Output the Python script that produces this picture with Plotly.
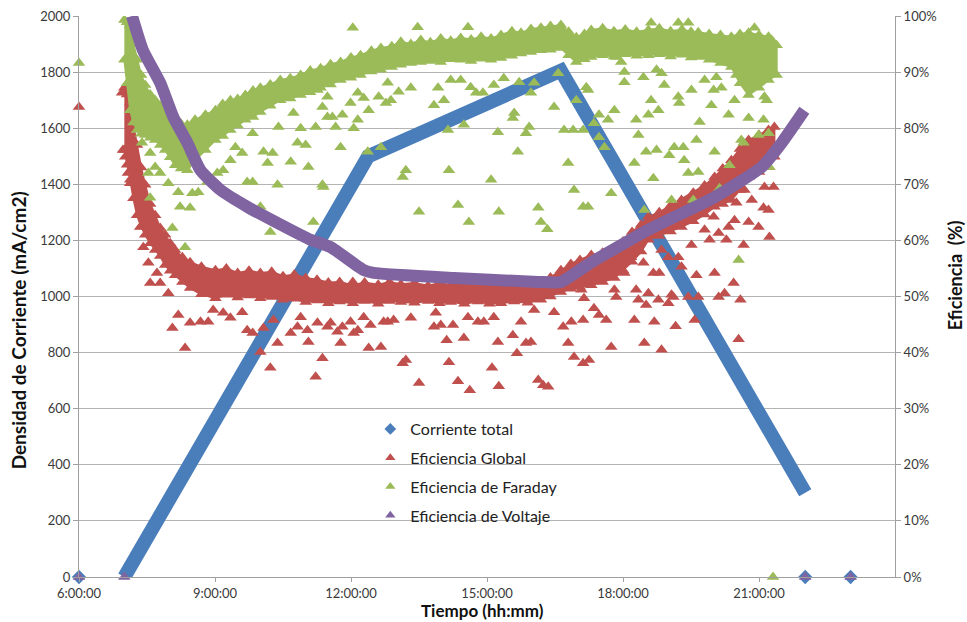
import plotly.graph_objects as go

# ---------------------------------------------------------------
# Data (time in decimal hours, current in mA/cm2, efficiency in %)
# ---------------------------------------------------------------
x_tickvals = [6, 9, 12, 15, 18, 21]
x_ticktext = ["6:00:00", "9:00:00", "12:00:00", "15:00:00", "18:00:00", "21:00:00"]
y1_tickvals = [0, 200, 400, 600, 800, 1000, 1200, 1400, 1600, 1800, 2000]
y2_tickvals = [0, 10, 20, 30, 40, 50, 60, 70, 80, 90, 100]
y2_ticktext = [f"{v}%" for v in y2_tickvals]

# Corriente total: ramp up, slower ramp, ramp down
corr_t = [7.00, 12.38, 16.63, 22.02]
corr_v = [0, 1500, 1805, 300]
corr_iso_t = [6.00, 22.02, 23.02]
corr_iso_v = [0, 0, 0]

# Eficiencia de Voltaje
volt_t = [7.17, 7.41, 7.79, 8.08, 8.39, 8.68, 9.12, 9.71, 10.38, 11.11, 11.55,
          12.28, 12.50, 14.27, 16.13, 16.63, 17.30, 18.56, 20.02, 21.06, 21.50, 22.00]
volt_v = [100.0, 93.9, 88.1, 82.0, 77.4, 72.5, 69.0, 66.0, 63.1, 60.1, 58.8,
          54.7, 54.2, 53.3, 52.6, 52.6, 56.1, 61.9, 67.7, 73.1, 77.4, 83.2]
volt_iso_t = [6.00, 7.00, 22.02, 23.02]
volt_iso_v = [0, 0, 0, 0]

# Eficiencia Global: dense band (upper / lower edge)
glob_band_t = [7.00, 7.06, 7.13, 7.20, 7.28, 7.37, 7.46, 7.57, 7.68, 7.79, 7.90, 8.01,
               8.12, 8.28, 8.45, 8.70, 9.01, 9.25, 9.50, 9.75, 10.00, 10.25, 10.50,
               10.75, 11.00, 11.25, 11.50, 11.75, 12.04, 12.30, 12.60, 12.85, 13.10,
               13.40, 13.70, 13.95, 14.20, 14.50, 14.80, 15.05, 15.31, 15.60, 15.90,
               16.19, 16.40, 16.63, 16.85, 17.05, 17.30, 17.55, 17.81, 18.00, 18.20,
               18.40, 18.56, 18.80, 19.05, 19.29, 19.55, 19.80, 20.02, 20.20, 20.39,
               20.58, 20.77, 21.00, 21.21, 21.34]
glob_band_hi = [87.2, 86.0, 84.5, 80.5, 77.0, 73.0, 69.9, 66.5, 64.5, 62.2, 61.0, 59.5,
                58.3, 57.0, 56.1, 55.3, 54.7, 55.0, 54.2, 54.6, 54.2, 54.4, 53.6,
                53.9, 53.3, 53.0, 52.5, 52.6, 52.0, 52.5, 52.1, 52.6, 52.2,
                52.4, 51.9, 52.4, 52.0, 52.3, 51.8, 52.2, 51.9, 52.3, 52.0,
                52.4, 53.4, 54.7, 55.8, 56.5, 57.4, 57.8, 58.3, 59.8, 61.5,
                62.8, 64.2, 65.0, 66.2, 67.2, 68.5, 69.8, 71.3, 72.8, 74.3,
                76.3, 77.9, 78.8, 79.7, 80.2]
glob_band_lo = [76.1, 73.5, 70.8, 67.5, 64.5, 62.5, 61.0, 59.5, 58.3, 57.2, 55.6, 54.6,
                53.8, 52.6, 51.5, 50.4, 49.7, 50.3, 49.8, 50.2, 49.7, 49.9, 49.4,
                49.6, 49.0, 49.3, 48.8, 49.1, 48.8, 49.2, 48.7, 49.2, 49.0,
                48.9, 49.2, 48.8, 49.0, 48.7, 49.1, 48.7, 48.8, 49.1, 48.9,
                49.4, 50.0, 50.8, 51.4, 51.7, 52.0, 52.6, 53.3, 54.7, 56.2,
                58.0, 60.1, 60.8, 61.6, 62.4, 63.4, 64.6, 66.0, 66.5, 67.2,
                69.0, 71.3, 72.2, 73.1, 74.9]
# Eficiencia Global: scattered readings
glob_t = [6.00, 6.95, 6.97, 7.02, 7.08, 7.13, 7.35, 7.42, 7.53, 7.57, 7.72, 7.97, 7.79,
          8.06, 8.34, 8.19, 8.45, 8.68, 8.85, 8.96, 9.18, 9.34, 9.60, 9.71, 9.83, 10.00,
          10.07, 10.22, 10.29, 10.38, 10.67, 10.82, 10.89, 11.04, 11.06, 11.22, 11.26,
          11.37, 11.48, 11.55, 11.70, 11.77, 11.81, 11.99, 12.06, 12.15, 12.28, 12.39,
          12.43, 12.66, 12.72, 12.81, 12.94, 13.14, 13.21, 13.32, 13.50, 13.83, 13.87,
          13.98, 14.11, 14.16, 14.25, 14.36, 14.49, 14.58, 14.62, 14.80, 14.93, 15.11,
          15.15, 15.24, 15.26, 15.57, 15.66, 15.75, 15.86, 15.97, 16.04, 16.13, 16.24,
          16.35, 16.48, 16.68, 16.79, 16.86, 16.92, 17.12, 17.12, 17.14, 17.25, 17.36,
          17.47, 17.63, 17.74, 17.85, 18.25, 18.34, 18.47, 18.51, 18.69, 18.78, 18.85,
          19.00, 19.11, 19.16, 19.44, 19.58, 19.66, 20.11, 20.24, 20.55, 20.59,
          17.08, 17.52, 17.59, 17.81, 18.03, 18.18, 18.29, 18.45, 18.56, 18.67, 18.80,
          18.85, 19.00, 19.07, 19.22, 19.29, 19.51, 19.62, 19.80, 19.91, 20.00, 20.02,
          20.11, 20.28, 20.33, 20.44, 20.46, 20.50, 20.66, 20.68, 20.77, 20.84, 20.99,
          21.10, 21.12, 21.21, 21.23, 21.32, 20.90, 21.10, 12.04]
glob_v = [83.8, 86.3, 76.1, 74.9, 72.0, 70.2, 62.4, 58.8, 56.0, 52.4, 54.2, 50.6, 52.4,
          44.4, 40.8, 46.7, 45.3, 45.5, 45.5, 47.6, 47.1, 46.2, 47.2, 44.0, 43.5, 40.1,
          44.4, 37.3, 45.8, 41.7, 43.5, 44.6, 46.3, 44.0, 41.9, 35.7, 45.3,
          39.0, 44.6, 45.3, 43.7, 41.7, 44.6, 45.5, 43.5, 44.0, 46.3, 40.8,
          44.9, 41.0, 45.5, 45.5, 45.8, 38.1, 38.7, 46.2, 34.6, 44.6, 47.1,
          44.9, 42.2, 38.3, 44.9, 34.9, 42.6, 46.3, 33.3, 45.5, 45.5, 37.3,
          46.3, 41.9, 34.0, 43.1, 39.9, 45.5, 41.7, 41.9, 47.6, 35.1, 34.2,
          33.9, 47.2, 44.6, 41.7, 45.5, 39.2, 38.1, 45.8, 49.7, 38.7, 47.9,
          46.7, 45.8, 41.0, 49.9, 45.8, 49.4, 41.7, 48.5, 45.5, 49.4, 40.5,
          48.8, 49.9, 44.7, 49.9, 45.8, 49.9, 49.9, 50.6, 42.4, 49.4,
          51.2, 52.9, 55.3, 51.2, 54.2, 57.0, 51.2, 56.0, 50.6, 54.2, 54.2,
          58.3, 57.0, 50.3, 57.0, 55.3, 59.2, 53.8, 61.9, 60.1, 64.2, 54.2,
          61.3, 60.1, 62.4, 52.4, 63.6, 66.7, 59.2, 69.0, 63.3, 67.2, 62.4,
          65.8, 69.5, 65.4, 60.6, 69.5, 76.6, 77.9, 52.6]

# Eficiencia de Faraday: dense band (upper / lower edge)
fara_band_t = [7.00, 7.06, 7.13, 7.20, 7.28, 7.37, 7.46, 7.57, 7.68, 7.79, 7.90, 8.01,
               8.12, 8.25, 8.39, 8.56, 8.79, 9.01, 9.17, 9.34, 9.50, 9.67, 9.84, 10.00,
               10.22, 10.44, 10.66, 10.89, 11.10, 11.33, 11.55, 11.77, 12.00, 12.21,
               12.45, 12.66, 12.90, 13.10, 13.32, 13.54, 13.75, 13.98, 14.20, 14.42,
               14.65, 14.87, 15.09, 15.31, 15.55, 15.75, 15.97, 16.19, 16.40, 16.63,
               16.80, 16.97, 17.15, 17.30, 17.55, 17.80, 18.05, 18.30, 18.56, 18.80,
               19.05, 19.30, 19.50, 19.66, 19.90, 20.15, 20.39, 20.58, 20.77, 21.00,
               21.21, 21.39]
fara_band_hi = [99.3, 98.9, 98.4, 95.0, 92.2, 89.5, 87.7, 86.0, 85.0, 84.0, 83.2, 82.2,
                81.5, 80.8, 80.6, 81.5, 82.4, 83.2, 84.3, 85.0, 85.2, 85.9, 86.7, 87.2,
                87.8, 88.6, 88.9, 89.5, 90.3, 90.7, 91.4, 91.8, 92.6, 93.0,
                93.8, 94.3, 94.6, 95.4, 95.0, 95.7, 95.3, 96.0, 95.6, 96.1,
                95.8, 96.3, 96.0, 96.6, 97.3, 97.0, 97.7, 97.9, 98.2, 98.4,
                97.2, 96.2, 96.8, 97.5, 97.8, 97.3, 97.6, 97.2, 97.5, 97.8,
                97.3, 97.6, 97.2, 97.1, 96.8, 96.6, 96.3, 96.8, 97.0, 96.6,
                96.3, 94.8]
fara_band_lo = [92.2, 88.0, 83.2, 81.0, 79.7, 79.0, 78.8, 78.3, 77.9, 77.0, 76.1, 74.8,
                73.4, 72.8, 72.5, 74.3, 76.1, 77.9, 78.6, 79.7, 80.5, 81.5, 82.0, 82.9,
                84.0, 85.0, 85.3, 85.9, 86.4, 87.2, 87.8, 88.6, 89.0, 89.5,
                90.1, 90.4, 90.9, 91.3, 91.6, 91.8, 92.0, 91.8, 92.3, 92.2,
                92.0, 92.4, 92.2, 92.5, 92.9, 93.3, 93.6, 93.9, 94.0, 94.3,
                93.0, 91.8, 92.3, 92.7, 93.0, 92.8, 93.2, 92.9, 93.0, 93.2,
                92.8, 93.1, 92.6, 92.7, 92.2, 91.6, 90.9, 88.0, 85.9, 87.2,
                88.6, 89.5]
# Eficiencia de Faraday: scattered readings
fara_t = [6.00, 21.31, 7.39, 7.57, 7.53, 7.57, 7.68, 7.79, 7.97, 8.19, 8.23, 8.45, 8.50,
          8.06, 8.34, 8.63, 8.83, 9.05, 9.18, 9.34, 9.45, 9.60, 9.71, 9.83, 9.83, 10.00,
          10.07, 10.27, 10.16, 10.38, 10.22, 10.40, 10.67, 10.73, 10.82, 10.89, 11.00,
          11.06, 11.17, 11.22, 11.26, 11.37, 11.37, 11.48,
          11.39, 11.48, 11.59, 11.66, 11.77, 11.81, 11.99, 12.04, 12.06, 12.15, 12.15,
          12.28, 12.39, 12.37, 12.66, 12.61, 12.77, 12.81, 12.88, 13.05, 13.14, 13.21,
          13.32, 13.50, 13.83, 13.92, 14.05, 14.14, 14.16, 14.20, 14.36, 14.42, 14.49,
          14.60, 14.64, 14.76, 14.91, 15.09, 15.15, 15.24, 15.26, 15.37, 15.57, 15.60,
          15.68, 15.71, 15.86, 15.93, 15.97, 16.04, 16.13, 16.19, 16.33, 16.48, 16.57,
          16.70, 16.79, 16.90, 16.92, 16.97, 17.12, 17.12, 17.23, 17.19,
          17.23, 17.36, 17.47, 17.59, 17.47, 17.67, 17.81, 17.74, 17.85, 17.96, 18.03,
          18.03, 18.29, 18.25, 18.34, 18.45, 18.47, 18.51, 18.56, 18.62, 18.67, 18.74,
          18.78, 18.74, 18.85, 18.91, 19.02, 19.07, 19.13, 19.22, 19.24, 19.33, 19.35,
          19.44, 19.51, 19.62, 19.66, 19.69, 19.55, 19.80, 19.95, 20.00, 20.02, 20.06,
          20.13, 20.17, 20.33, 20.35, 20.46, 20.50, 20.61, 20.66, 20.55, 20.77, 20.99,
          21.10, 21.21, 21.23, 21.12, 21.17,
          13.47, 14.58, 18.62, 19.22, 19.44, 20.90, 21.28]
fara_v = [91.6, 0.0, 77.4, 75.6, 72.0, 67.6, 73.1, 72.0, 70.2, 68.6, 66.0, 65.8, 68.4,
          62.2, 58.8, 68.6, 70.4, 72.0, 72.5, 74.3, 76.6, 75.6, 70.4, 70.4, 79.1, 66.0,
          75.8, 75.6, 73.8, 69.9, 61.5, 80.2, 74.0, 82.7, 77.4, 80.0, 77.0,
          73.1, 63.3, 80.2, 86.8, 69.9, 83.8, 82.0,
          69.5, 85.6, 82.0, 80.2, 76.6, 82.4, 84.5, 97.9, 80.0, 81.5, 86.3,
          85.4, 83.2, 75.8, 76.6, 85.6, 84.5, 88.1, 85.0, 86.5, 71.3, 72.5,
          87.2, 65.1, 84.1, 87.2, 85.0, 79.7, 72.5, 88.6, 66.3, 88.6, 80.6,
          63.3, 87.3, 86.3, 86.3, 70.8, 87.7, 79.3, 65.1, 88.9, 81.8, 82.7,
          75.8, 88.2, 79.1, 80.2, 86.3, 88.1, 65.8, 63.3, 62.0, 83.8, 89.8,
          79.7, 73.8, 79.7, 69.0, 85.0, 66.0, 79.7, 66.0, 87.3,
          86.8, 80.9, 78.4, 76.6, 82.4, 81.5, 83.2, 68.4, 92.7, 91.8, 90.0,
          88.2, 81.5, 73.8, 78.8, 89.1, 65.4, 75.8, 82.4, 85.0, 71.1, 76.1,
          83.2, 90.4, 89.8, 87.7, 75.2, 67.2, 76.6, 85.6, 84.5, 76.6, 74.3,
          72.0, 86.8, 77.9, 72.2, 81.1, 67.2, 88.6, 84.1, 86.8, 75.8, 89.1,
          69.3, 87.2, 82.4, 73.4, 85.0, 89.5, 77.9, 77.4, 56.5, 81.8, 78.8,
          81.5, 79.1, 73.1, 85.6, 85.0,
          98.0, 98.0, 98.8, 98.8, 98.8, 97.9, 95.7]

# ---------------------------------------------------------------
# Styling
# ---------------------------------------------------------------
BLUE = "#4A7EBB"
RED = "#C0504D"
GREEN = "#9BBB59"
PURPLE = "#8064A2"
FONT = "Lato, 'Open Sans', sans-serif"
GRID = "#B4B4B4"
AXIS = "#A0A0A0"
TXT = "#3A3A3A"
TITLE = "#111111"
MSIZE = 11

fig = go.Figure()

# Corriente total (left axis)
fig.add_trace(go.Scatter(x=corr_t, y=corr_v, mode="lines", yaxis="y",
                         line=dict(color=BLUE, width=14), showlegend=False,
                         hoverinfo="skip"))
fig.add_trace(go.Scatter(x=corr_iso_t, y=corr_iso_v, mode="markers", yaxis="y",
                         marker=dict(symbol="diamond", size=11, color=BLUE),
                         cliponaxis=False, showlegend=False))


def band_trace(t, hi, lo, color):
    xs = list(t) + list(t)[::-1]
    ys = list(hi) + list(lo)[::-1]
    return go.Scatter(x=xs, y=ys, mode="lines+markers", yaxis="y2", fill="toself",
                      fillcolor=color, line=dict(color=color, width=2),
                      marker=dict(symbol="triangle-up", size=MSIZE, color=color),
                      showlegend=False, hoverinfo="skip")


# Eficiencia Global (right axis)
fig.add_trace(band_trace(glob_band_t, glob_band_hi, glob_band_lo, RED))
fig.add_trace(go.Scatter(x=glob_t, y=glob_v, mode="markers", yaxis="y2",
                         marker=dict(symbol="triangle-up", size=MSIZE, color=RED),
                         cliponaxis=False, showlegend=False))

# Eficiencia de Faraday (right axis)
fig.add_trace(band_trace(fara_band_t, fara_band_hi, fara_band_lo, GREEN))
fig.add_trace(go.Scatter(x=fara_t, y=fara_v, mode="markers", yaxis="y2",
                         marker=dict(symbol="triangle-up", size=MSIZE, color=GREEN),
                         cliponaxis=False, showlegend=False))

# Eficiencia de Voltaje (right axis)
fig.add_trace(go.Scatter(x=volt_t, y=volt_v, mode="lines", yaxis="y2",
                         line=dict(color=PURPLE, width=12, shape="spline", smoothing=0.5),
                         showlegend=False, hoverinfo="skip"))
fig.add_trace(go.Scatter(x=volt_iso_t, y=volt_iso_v, mode="markers", yaxis="y2",
                         marker=dict(symbol="triangle-up", size=MSIZE, color=PURPLE),
                         cliponaxis=False, showlegend=False))

# Legend entries
legend_items = [("Corriente total", "diamond", BLUE),
                ("Eficiencia Global", "triangle-up", RED),
                ("Eficiencia de Faraday", "triangle-up", GREEN),
                ("Eficiencia de Voltaje", "triangle-up", PURPLE)]
for i, (name, sym, col) in enumerate(legend_items):
    fig.add_trace(go.Scatter(x=[None], y=[None], mode="markers", name=name,
                             legendgroup=f"g{i}",
                             marker=dict(symbol=sym, size=9, color=col)))

axis_common = dict(zeroline=False, showline=True, linecolor=AXIS, linewidth=1,
                   ticks="outside", tickcolor=AXIS,
                   tickfont=dict(size=13, color=TXT), automargin=False)

fig.update_layout(
    width=967, height=622,
    margin=dict(l=79, r=72, t=16, b=45),
    paper_bgcolor="white", plot_bgcolor="white",
    font=dict(family=FONT, size=13, color=TXT),
    xaxis=dict(range=[6, 24], tickvals=x_tickvals, ticktext=x_ticktext,
               showgrid=False, ticklen=4, ticklabelstandoff=0, **axis_common),
    yaxis=dict(range=[0, 2000], tickvals=y1_tickvals, showgrid=True,
               gridcolor=GRID, gridwidth=1, ticklen=5, **axis_common),
    yaxis2=dict(range=[0, 100], tickvals=y2_tickvals, ticktext=y2_ticktext,
                overlaying="y", side="right", showgrid=False, ticklen=5,
                **axis_common),
    legend=dict(x=0.357, y=0.294, xanchor="left", yanchor="top",
                bgcolor="rgba(0,0,0,0)", borderwidth=0,
                font=dict(size=16, color="#222222"),
                traceorder="grouped", tracegroupgap=5),
    showlegend=True,
    annotations=[
        dict(text="<b>Tiempo (hh:mm)</b>", xref="paper", yref="paper",
             x=0.494, y=-0.0802, xanchor="center", yanchor="bottom",
             borderpad=0, showarrow=False, font=dict(size=17, color=TITLE)),
        dict(text="<b>Densidad de Corriente (mA/cm2)</b>", xref="paper", yref="paper",
             x=-0.0745, y=0.44, xanchor="center", yanchor="middle", textangle=-90,
             showarrow=False, font=dict(size=19, color=TITLE)),
        dict(text="<b>Eficiencia  (%)</b>", xref="paper", yref="paper",
             x=1.0735, y=0.538, xanchor="center", yanchor="middle", textangle=-90,
             showarrow=False, font=dict(size=18, color=TITLE)),
    ],
)

fig.write_html("out.html")
